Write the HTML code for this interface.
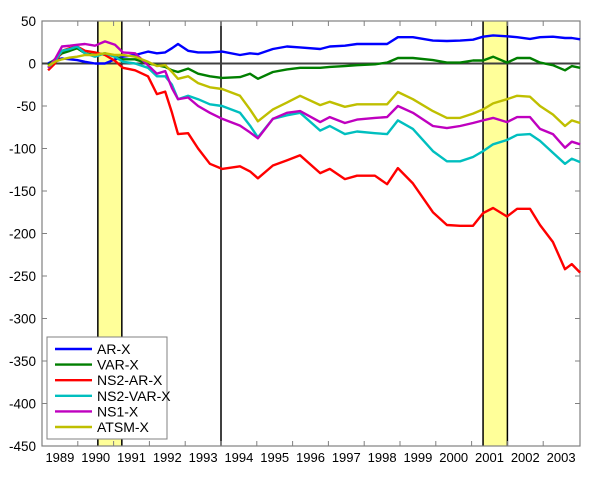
<!DOCTYPE html>
<html><head><meta charset="utf-8"><style>
html,body{margin:0;padding:0;background:#fff;}
svg{display:block;font-family:"Liberation Sans",sans-serif;}
</style></head><body>
<svg id="chart" width="600" height="482"></svg>
<script>
const years=[1989.17,1989.36,1989.56,1989.78,1989.98,1990.20,1990.48,1990.76,1991.04,1991.26,1991.60,1991.96,1992.21,1992.44,1992.63,1992.80,1993.08,1993.36,1993.69,1994.03,1994.53,1994.81,1995.03,1995.45,1995.84,1996.21,1996.77,1997.04,1997.46,1997.80,1998.30,1998.64,1998.94,1999.36,1999.92,2000.31,2000.68,2001.04,2001.32,2001.60,2001.99,2002.27,2002.63,2002.91,2003.27,2003.61,2003.80,2004.03];
const arX=[0,4,6,5,4,2,0,0,5,8,10,14,12,13,18,23,15,13,13,14,10,12,11,17,20,19,17,20,21,23,23,23,31,31,27,26.5,27,28,31.5,33,32,31,29,31,31.5,30,30,28.5];
const varX=[-2,5,12,15,18,12,10,12,8,5,5,0,-2,-4,-8,-10,-6,-12,-15,-17,-16,-12,-18,-10,-7,-5,-5,-4,-3,-2,-1,1,6.5,6.5,4,1,1,3.5,3.5,8,1,6.5,6.5,1,-2,-8,-3,-5];
const ns2arX=[-8,0,15,18,20,15,13,10,3,-5,-8,-15,-36,-33,-58,-83,-82,-100,-118,-124,-121,-127,-135,-120,-114,-108,-129,-124,-136,-132,-132,-142,-123,-141,-175,-190,-191,-191,-176,-170,-180,-171,-171,-190,-210,-242,-236,-246];
const ns2varX=[-5,3,15,17,20,12,8,12,8,2,0,-5,-15,-15,-25,-42,-38,-42,-48,-50,-58,-73,-87,-65,-61,-58,-79,-73.5,-83,-80,-82,-83,-67,-77,-103,-115,-115,-110,-103,-95,-90,-84,-83,-91,-105,-118,-112,-116];
const ns1X=[-5,5,20,21,22,23,21,26,22,13,12,-2,-12,-9,-29,-42,-40,-50,-58,-65,-73,-81,-88,-65,-58,-56,-69,-63,-70,-66,-64,-63,-50,-58,-73.5,-76,-73.5,-70,-67,-64,-69,-63,-63,-77,-83,-99,-92,-95];
const atsmX=[-3,2,5,7,8,10,10,12,10,10,8,2,-3,-2,-10,-18,-15,-23,-28,-30,-38,-54,-68,-54,-46,-38,-49,-45,-51,-48,-48,-48,-33.5,-42,-56,-64,-64,-59,-54,-47,-42,-38,-39,-50,-60,-73.5,-67,-70];
const seriesNames=["AR-X","VAR-X","NS2-AR-X","NS2-VAR-X","NS1-X","ATSM-X"];
const seriesColors=["#0000ff","#007f00","#ff0000","#00bfbf","#bf00bf","#bfbf00"];
const seriesData=[arX,varX,ns2arX,ns2varX,ns1X,atsmX];
const yTicks=[50,0,-50,-100,-150,-200,-250,-300,-350,-400,-450];
const xTickLabels=["1989","1990","1991","1992","1993","1994","1995","1996","1997","1998","1999","2000","2001","2002","2003"];
const recessions=[[1990.56,1991.23],[2001.32,2002.0]];
const markerYear=1994.0;

const L=42,R=580,T=21,B=446,X0=1989,X1=1989+(R-L)/35.8,Y0=-450,Y1=50;
const sx=t=>L+(t-X0)/(X1-X0)*(R-L);
const sy=v=>B-(v-Y0)/(Y1-Y0)*(B-T);
const svg=document.getElementById('chart');
const NS='http://www.w3.org/2000/svg';
function mk(tag,attrs,parent){const e=document.createElementNS(NS,tag);for(const k in attrs)e.setAttribute(k,attrs[k]);(parent||svg).appendChild(e);return e;}

recessions.forEach(r=>{
  const e=mk('rect',{x:sx(r[0]),y:T,width:sx(r[1])-sx(r[0]),height:B-T,fill:'#ffff99'});
  
  
  [r[0],r[1]].forEach(t=>{const l=mk('line',{x1:sx(t),x2:sx(t),y1:T,y2:B,stroke:'#000','stroke-width':1.5});
    
    });
});
const ml=mk('line',{x1:sx(markerYear),x2:sx(markerYear),y1:T,y2:B,stroke:'#000','stroke-width':1.5});



// axes box
const box=mk('rect',{x:L,y:T,width:R-L,height:B-T,fill:'none',stroke:'#808080','stroke-width':1.2});


yTicks.forEach(v=>{
  const y=sy(v);
  mk('line',{x1:L,x2:L+5,y1:y,y2:y,stroke:'#808080'});
  mk('line',{x1:R-5,x2:R,y1:y,y2:y,stroke:'#808080'});
  const t=mk('text',{x:L-6,y:y+5,'text-anchor':'end','font-size':13.5,fill:'#000'});
  t.textContent=v;
  
  
});
xTickLabels.forEach((lab,i)=>{
  const yr=X0+i;
  if(i>0){const x=sx(yr);mk('line',{x1:x,x2:x,y1:B,y2:B-5,stroke:'#808080'});mk('line',{x1:x,x2:x,y1:T,y2:T+5,stroke:'#808080'});}
  const t=mk('text',{x:sx(yr+0.5),y:462,'text-anchor':'middle','font-size':13,fill:'#000'});
  t.textContent=lab;
  
  
});
const zl=mk('line',{x1:L,x2:R,y1:sy(0),y2:sy(0),stroke:'#404040','stroke-width':2});



seriesData.forEach((vals,si)=>{
  const d=vals.map((v,i)=>(i?'L':'M')+sx(years[i]).toFixed(1)+' '+sy(v).toFixed(1)).join(' ');
  const p=mk('path',{d:d,fill:'none',stroke:seriesColors[si],'stroke-width':2.4,'stroke-linejoin':'round'});
  
  
});

// legend
const lg=mk('g',{});


mk('rect',{x:47,y:337,width:120,height:102,fill:'#fff',stroke:'#808080','stroke-width':1},lg);
seriesNames.forEach((n,i)=>{
  const y=349+i*15.6;
  const g=mk('g',{},lg);
  
  
  mk('line',{x1:55,x2:92,y1:y,y2:y,stroke:seriesColors[i],'stroke-width':2.4},g);
  const t=mk('text',{x:97,y:y+5,'font-size':14,fill:'#000'},g);
  t.textContent=n;
});
</script>
</body></html>
